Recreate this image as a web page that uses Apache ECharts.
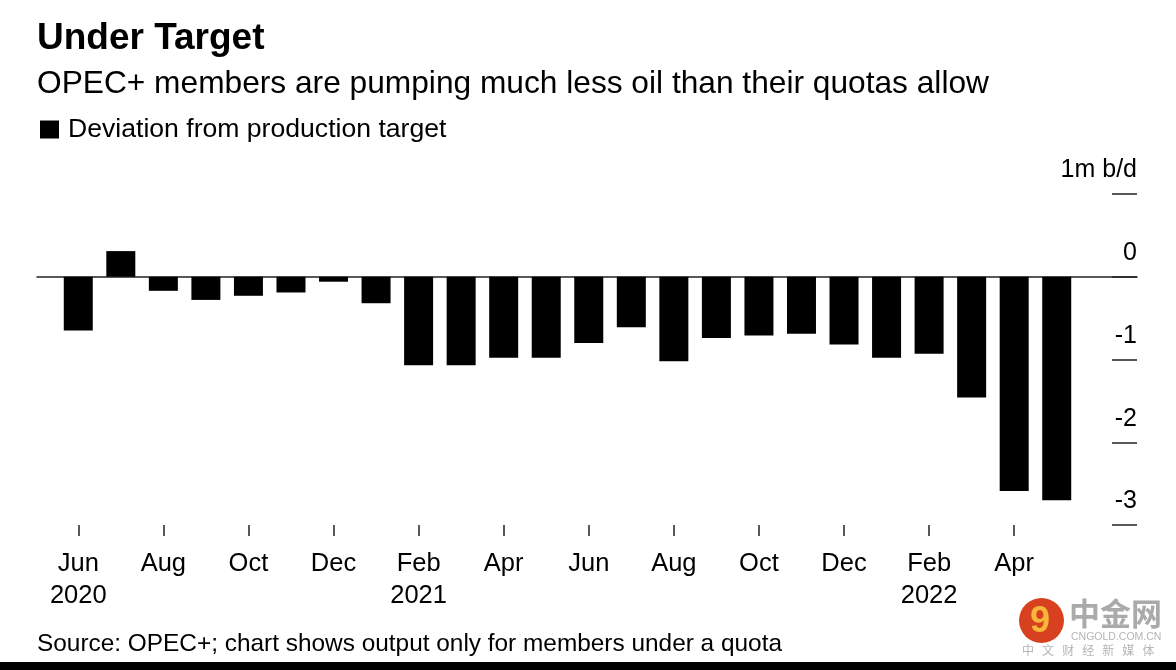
<!DOCTYPE html>
<html>
<head>
<meta charset="utf-8">
<style>html,body{margin:0;padding:0;background:#fff}#c{width:1176px;height:670px}</style>
<script src="https://cdn.jsdelivr.net/npm/echarts@6/dist/echarts.min.js"></script>
</head>
<body>
<div id="c"></div>
<script>
const months = ['Jun\n2020','Jul','Aug','Sep','Oct','Nov','Dec','Jan','Feb\n2021','Mar','Apr','May','Jun','Jul','Aug','Sep','Oct','Nov','Dec','Jan','Feb\n2022','Mar','Apr','May'];
const deviation = [-0.65,0.31,-0.17,-0.28,-0.23,-0.19,-0.06,-0.32,-1.07,-1.07,-0.98,-0.98,-0.80,-0.61,-1.02,-0.74,-0.71,-0.69,-0.82,-0.98,-0.93,-1.46,-2.59,-2.70];
const yLabels = {'1':'1m b/d','0':'0','-1':'-1','-2':'-2','-3':'-3'};
const FONT = '"Liberation Sans", Arial, sans-serif';
const chart = echarts.init(document.getElementById('c'));
chart.setOption({
  animation:false,
  backgroundColor:'#fff',
  title:[
    {text:'Under Target',left:37,top:20,padding:0,textStyle:{fontFamily:FONT,fontSize:37,fontWeight:'bold',color:'#000'}},
    {text:'OPEC+ members are pumping much less oil than their quotas allow',left:37,top:68,padding:0,textStyle:{fontFamily:FONT,fontSize:31.7,fontWeight:'normal',color:'#000'}},
    {text:'Source: OPEC+; chart shows output only for members under a quota',left:37,top:632,padding:0,textStyle:{fontFamily:FONT,fontSize:24.4,fontWeight:'normal',color:'#000'}}
  ],
  legend:{left:40,top:116,padding:0,itemWidth:19,itemHeight:18,itemGap:8,icon:'rect',
    textStyle:{fontFamily:FONT,fontSize:26.6,color:'#000',padding:[0,0,0,4]},
    data:['Deviation from production target'],selectedMode:false},
  grid:[
    {left:37,right:39,top:194,height:331},
    {left:57,width:1021,top:194,height:331}
  ],
  xAxis:[
    {type:'value',gridIndex:0,min:0,max:1,axisLine:{show:true,onZero:true,lineStyle:{color:'#222',width:1.5}},axisTick:{show:false},axisLabel:{show:false},splitLine:{show:false}},
    {type:'category',gridIndex:1,data:months,position:'bottom',
      axisLine:{show:false,onZero:false},
      axisTick:{show:true,alignWithLabel:true,interval:1,length:11,lineStyle:{color:'#222',width:1.5}},
      axisLabel:{interval:1,margin:23,fontFamily:FONT,fontSize:25.5,lineHeight:32,color:'#000'},
      splitLine:{show:false}}
  ],
  yAxis:[
    {type:'value',gridIndex:0,position:'right',min:-3,max:1,interval:1,
      axisLine:{show:false,onZero:false},
      axisTick:{show:true,inside:true,length:25,lineStyle:{color:'#222',width:1.5}},
      axisLabel:{inside:true,margin:0,align:'right',verticalAlign:'bottom',padding:[0,0,11,0],fontFamily:FONT,fontSize:25,color:'#000',
        formatter:v=>yLabels[String(v)]},
      splitLine:{show:false}},
    {type:'value',gridIndex:1,min:-3,max:1,interval:1,show:false,splitLine:{show:false}}
  ],
  series:[{
    name:'Deviation from production target',type:'bar',xAxisIndex:1,yAxisIndex:1,
    data:deviation,barWidth:29,itemStyle:{color:'#000'},z:5
  }],
  graphic:[
    {type:'rect',left:0,top:662,shape:{width:1176,height:8},style:{fill:'#000'}},
    {type:'circle',left:1019,top:598,shape:{r:22.5},style:{fill:'#d8411f'}},
    {type:'text',left:1030,top:604,style:{text:'9',fontFamily:FONT,fontSize:36,fontWeight:'bold',fill:'#f5b63a'}},
    {type:'text',left:1069,top:598,style:{text:'中金网',fontFamily:'"Noto Sans CJK SC"',fontSize:31,fontWeight:'bold',fill:'#aaaaaa'}},
    {type:'text',left:1071,top:632,style:{text:'CNGOLD.COM.CN',fontFamily:FONT,fontSize:10.5,fill:'#b5b5b5'}},
    {type:'text',left:1022,top:644,style:{text:'中   文   财   经   新   媒   体',fontFamily:'"Noto Sans CJK SC"',fontSize:12,fill:'#b5b5b5'}}
  ]
});
</script>
</body>
</html>
